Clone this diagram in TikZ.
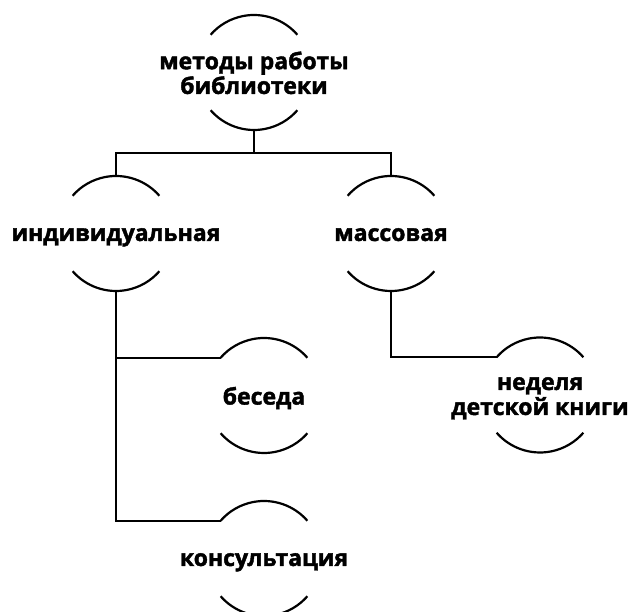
\documentclass[tikz,border=0pt]{standalone}
\usepackage{fontspec}
\setmainfont{Open Sans}[BoldFont={Open Sans Bold}, BoldFeatures={FakeBold=1.8}]
\begin{document}
\begin{tikzpicture}[x=1pt,y=1pt,
  line width=2.2pt,
  item/.style={circle, minimum size=115pt, inner sep=0pt, outer sep=0pt, draw=none,
    text height=0pt, text depth=0pt},
  conn/.style={draw, line width=2.2pt}]
\useasboundingbox (0,0) rectangle (635,612);
\newcommand{\lbl}[2][-9pt]{\raisebox{#1}{\makebox[0pt]{\fontsize{23}{23.5}\selectfont\bfseries\begin{tabular}{@{}c@{}}#2\end{tabular}}}}
\newcommand{\twoarcs}[1]{%
  \draw (#1.41) arc[start angle=41, end angle=139, radius=57.5];
  \draw (#1.221) arc[start angle=221, end angle=319, radius=57.5];}
\node[item] (t) at (254,539.5) {\lbl[-10pt]{методы работы\\библиотеки}};
\node[item] (l) at (116,378.5) {\lbl{индивидуальная}};
\node[item] (r) at (391,378.5) {\lbl{массовая}};
\node[item] (b) at (264,216.5) {\lbl[-10pt]{беседа}};
\node[item] (n) at (540,217) {\lbl{неделя\\детской книги}};
\node[item] (k) at (264,53.5) {\lbl{консультация}};
\foreach \m in {t,l,r,b,n,k}{\twoarcs{\m}}
\coordinate (j) at (254,459);
\draw[conn] (t.south) -- (j);
\draw[conn] (l.north) -- (l.north |- j) -- (r.north |- j) -- (r.north);
\draw[conn] (l.south) |- (k.139);
\draw[conn] (l.south |- b.139) -- (b.139);
\draw[conn] (r.south) |- (n.139);
\end{tikzpicture}
\end{document}
